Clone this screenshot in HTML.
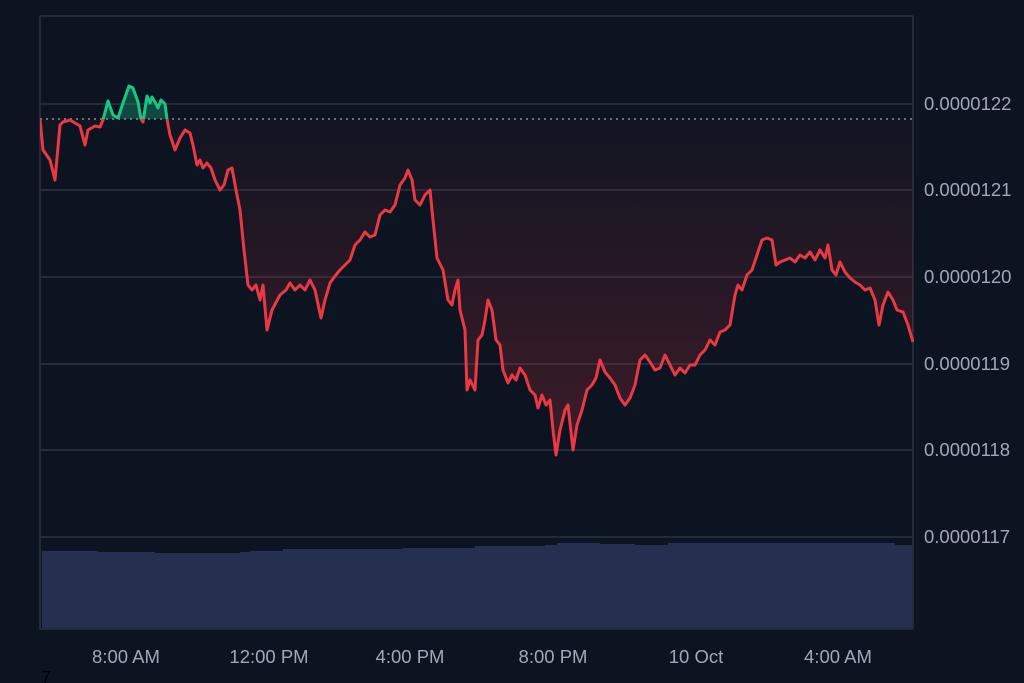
<!DOCTYPE html>
<html><head><meta charset="utf-8"><style>
html,body{margin:0;padding:0;background:#0d1421;width:1024px;height:683px;overflow:hidden}
svg{display:block}
text{font-family:"Liberation Sans",sans-serif}
</style></head><body>
<svg width="1024" height="683" viewBox="0 0 1024 683">
<defs>
<linearGradient id="rg" x1="0" y1="119" x2="0" y2="455" gradientUnits="userSpaceOnUse">
<stop offset="0" stop-color="#ea3943" stop-opacity="0.02"/>
<stop offset="1" stop-color="#ea3943" stop-opacity="0.22"/>
</linearGradient>
<clipPath id="above"><rect x="40" y="0" width="874" height="119"/></clipPath>
<clipPath id="below"><rect x="40" y="119" width="874" height="520"/></clipPath>
</defs>
<rect width="1024" height="683" fill="#0d1421"/>
<g stroke="#2b3140" stroke-width="1.5">
<line x1="40" y1="16" x2="913" y2="16"/>
<line x1="40" y1="16" x2="40" y2="629"/>
<line x1="913" y1="16" x2="913" y2="629"/>
<line x1="40" y1="629" x2="913" y2="629"/>
<line x1="40" y1="104" x2="913" y2="104"/>
<line x1="40" y1="190" x2="913" y2="190"/>
<line x1="40" y1="277" x2="913" y2="277"/>
<line x1="40" y1="364" x2="913" y2="364"/>
<line x1="40" y1="450" x2="913" y2="450"/>
<line x1="40" y1="537" x2="913" y2="537"/>
</g>
<path d="M42,551 L98,551 L98,552 L155,552 L155,553 L240,553 L240,552 L250,552 L250,551 L283,551 L283,549 L403,549 L403,548 L475,548 L475,546 L545,546 L545,545 L557,545 L557,543 L600,543 L600,544 L635,544 L635,545 L668,545 L668,543 L895,543 L895,545 L912,545 L912,628 L42,628 Z" fill="#262f50"/>
<g id="pts"></g>
<script>
var p="40,119 43,150 50,160 55,180 60,125 63,122 70,120 80,126 85,145 88,130 95,126 100,127 103,120 108,101 113,115 118,118 123,103 129,86 133,88 138,102 141,119 143,122 147,96 150,103 152,97 155,102 158,108 161,100 165,104 167,119 170,135 175,150 180,138 185,130 190,133 193,145 197,165 200,160 203,168 207,163 211,168 215,180 220,190 224,185 228,170 232,168 236,190 240,210 244,250 248,285 252,290 256,285 260,300 263,285 267,330 272,310 280,295 286,290 290,283 295,290 300,285 305,290 310,280 315,290 321,318 325,300 330,283 335,276 340,270 345,265 350,260 355,245 360,240 365,232 370,237 375,235 380,215 385,210 390,212 395,205 400,185 405,178 408,170 412,180 415,200 420,205 425,195 430,190 433,220 437,258 443,270 448,300 452,305 455,290 458,280 460,310 465,330 467,390 470,380 475,390 478,340 482,335 485,320 488,300 492,310 496,340 500,345 503,370 508,383 512,375 516,380 520,368 525,375 530,390 535,395 538,408 542,395 546,405 550,400 553,430 556,455 560,430 565,410 568,405 573,450 577,425 582,410 587,390 592,385 596,378 600,360 605,372 610,378 615,385 620,398 625,405 630,398 635,385 640,360 645,355 650,362 655,370 660,368 665,355 670,365 675,375 680,368 685,373 690,365 695,365 700,355 705,350 710,340 715,345 720,332 725,330 730,325 735,295 738,285 742,290 747,275 752,270 757,255 762,240 767,238 772,240 776,265 780,262 785,260 790,258 795,262 800,255 805,258 810,252 815,260 820,250 825,258 828,245 832,270 836,275 840,262 845,272 850,278 855,282 860,285 865,290 870,288 875,300 879,325 883,305 888,292 893,300 897,310 903,312 908,325 913,342";
var NS="http://www.w3.org/2000/svg",g=document.getElementById("pts");
function el(t,a){var e=document.createElementNS(NS,t);for(var k in a)e.setAttribute(k,a[k]);g.appendChild(e);return e;}
var area="M40,119 L"+p.replace(/ /g," L")+" L913,119 Z";
el("path",{d:area,fill:"url(#rg)","clip-path":"url(#below)"});
el("path",{d:area,fill:"#16c784","fill-opacity":"0.3","clip-path":"url(#above)"});
el("line",{x1:40,y1:119,x2:913,y2:119,stroke:"#8a909c","stroke-width":1.5,"stroke-dasharray":"2,4"});
el("polyline",{points:p,fill:"none",stroke:"#ea3943","stroke-width":3,"stroke-linejoin":"round","clip-path":"url(#below)"});
el("polyline",{points:p,fill:"none",stroke:"#16c784","stroke-width":3,"stroke-linejoin":"round","clip-path":"url(#above)"});
</script>
<g fill="#a1a7bb" font-size="18.5">
<text x="924" y="110">0.0000122</text>
<text x="924" y="196">0.0000121</text>
<text x="924" y="283">0.0000120</text>
<text x="924" y="370">0.0000119</text>
<text x="924" y="456">0.0000118</text>
<text x="924" y="543">0.0000117</text>
</g>
<g fill="#a1a7bb" font-size="18.5" text-anchor="middle">
<text x="126" y="663">8:00 AM</text>
<text x="269" y="663">12:00 PM</text>
<text x="410" y="663">4:00 PM</text>
<text x="553" y="663">8:00 PM</text>
<text x="696" y="663">10 Oct</text>
<text x="838" y="663">4:00 AM</text>
</g>
<text x="41" y="684" fill="#000" font-size="18">7</text>
</svg>
</body></html>
